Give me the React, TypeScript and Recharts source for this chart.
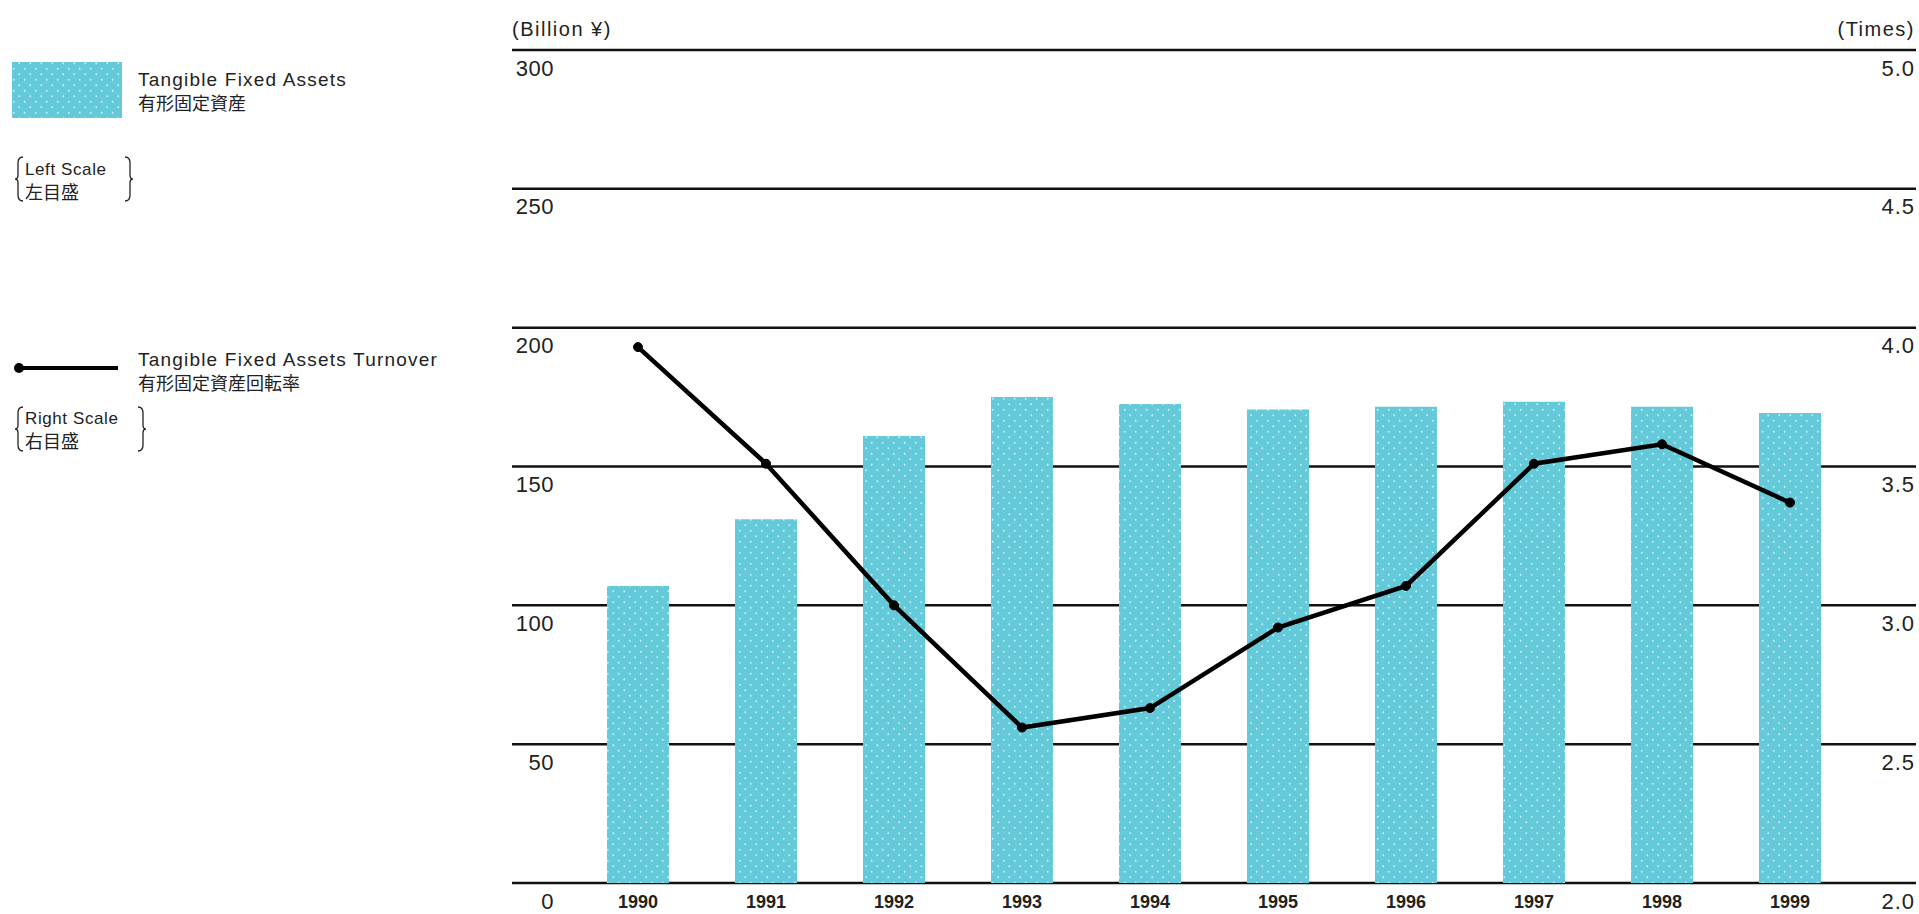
import { ComposedChart, Bar, Line, XAxis, YAxis, CartesianGrid } from "recharts";

// fiscal years on the category axis
const years = ["1990", "1991", "1992", "1993", "1994", "1995", "1996", "1997", "1998", "1999"];
// Tangible Fixed Assets, billion yen (left scale)
const fixedAssets = [107, 131, 161, 175, 172.5, 170.5, 171.5, 173.3, 171.5, 169.3];
// Tangible Fixed Assets Turnover, times (right scale)
const turnover = [3.93, 3.51, 3.0, 2.56, 2.63, 2.92, 3.07, 3.51, 3.58, 3.37];
const leftTicks = [0, 50, 100, 150, 200, 250, 300];
const rightTicks = [2.0, 2.5, 3.0, 3.5, 4.0, 4.5, 5.0];

const data = years.map((year, i) => ({
  year,
  assets: fixedAssets[i],
  turnover: turnover[i]
}));

const W = 1919;
const H = 914;
const PLOT_LEFT = 512;
const PLOT_RIGHT = 1916;
const PLOT_TOP = 50;
const PLOT_BOTTOM = 883;

const FONT = "'Liberation Sans', Arial, Helvetica, sans-serif";
const CJK = "'Noto Sans CJK JP', 'Noto Sans CJK SC', sans-serif";
const INK = "#222";
const CYAN = "#64CAD9";

const LeftTick = (props: any) => (
  <text
    x={PLOT_LEFT + 42}
    y={props.y + 18}
    textAnchor="end"
    dominantBaseline="central"
    fontFamily={FONT}
    fontSize={22}
    letterSpacing={0.5}
    fill={INK}
  >
    {props.payload.value}
  </text>
);

const RightTick = (props: any) => (
  <text
    x={PLOT_RIGHT - 1}
    y={props.y + 18}
    textAnchor="end"
    dominantBaseline="central"
    fontFamily={FONT}
    fontSize={22}
    letterSpacing={1}
    fill={INK}
  >
    {Number(props.payload.value).toFixed(1)}
  </text>
);

const YearTick = (props: any) => (
  <text
    x={props.x}
    y={902}
    textAnchor="middle"
    dominantBaseline="central"
    fontFamily={FONT}
    fontSize={18}
    fontWeight="bold"
    fill={INK}
  >
    {props.payload.value}
  </text>
);

function Brace({ x, top, bottom, flip }: { x: number; top: number; bottom: number; flip?: boolean }) {
  const s = flip ? -1 : 1;
  const mid = (top + bottom) / 2;
  const d = [
    `M ${x + 5 * s} ${top}`,
    `Q ${x} ${top} ${x} ${top + 6}`,
    `L ${x} ${mid - 4}`,
    `Q ${x} ${mid} ${x - 3 * s} ${mid}`,
    `Q ${x} ${mid} ${x} ${mid + 4}`,
    `L ${x} ${bottom - 6}`,
    `Q ${x} ${bottom} ${x + 5 * s} ${bottom}`
  ].join(" ");
  return <path d={d} fill="none" stroke={INK} strokeWidth={1.3} />;
}

function Overlay() {
  return (
    <svg
      width={W}
      height={H}
      style={{ position: "absolute", left: 0, top: 0, pointerEvents: "none" }}
    >
      <defs>
        <pattern id="dotsLegend" patternUnits="userSpaceOnUse" width={11} height={11}>
          <rect width={11} height={11} fill={CYAN} />
          <circle cx={2.75} cy={2.75} r={0.9} fill="#CDF1F6" />
          <circle cx={8.25} cy={8.25} r={0.9} fill="#CDF1F6" />
        </pattern>
      </defs>

      {/* axis unit captions */}
      <text x={PLOT_LEFT} y={36} fontFamily={FONT} fontSize={20} letterSpacing={1.5} fill={INK}>
        (Billion ¥)
      </text>
      <text x={1915} y={36} textAnchor="end" fontFamily={FONT} fontSize={20} letterSpacing={1.5} fill={INK}>
        (Times)
      </text>

      {/* bar legend */}
      <rect x={12} y={62} width={110} height={56} fill="url(#dotsLegend)" />
      <text x={138} y={86} fontFamily={FONT} fontSize={19} letterSpacing={1.2} fill={INK}>
        Tangible Fixed Assets
      </text>
      <text x={138} y={110} fontFamily={CJK} fontSize={18} fill={INK}>
        有形固定資産
      </text>
      <Brace x={18} top={157} bottom={201} />
      <Brace x={130} top={157} bottom={201} flip />
      <text x={25} y={175} fontFamily={FONT} fontSize={17} letterSpacing={0.6} fill={INK}>
        Left Scale
      </text>
      <text x={25} y={199} fontFamily={CJK} fontSize={18} fill={INK}>
        左目盛
      </text>

      {/* line legend */}
      <line x1={18} y1={368} x2={118} y2={368} stroke="#000" strokeWidth={4} />
      <circle cx={19} cy={368} r={5} fill="#000" />
      <text x={138} y={366} fontFamily={FONT} fontSize={19} letterSpacing={1.2} fill={INK}>
        Tangible Fixed Assets Turnover
      </text>
      <text x={138} y={390} fontFamily={CJK} fontSize={18} fill={INK}>
        有形固定資産回転率
      </text>
      <Brace x={18} top={407} bottom={451} />
      <Brace x={143} top={407} bottom={451} flip />
      <text x={25} y={424} fontFamily={FONT} fontSize={17} letterSpacing={0.6} fill={INK}>
        Right Scale
      </text>
      <text x={25} y={448} fontFamily={CJK} fontSize={18} fill={INK}>
        右目盛
      </text>
    </svg>
  );
}

export default function App() {
  return (
    <div style={{ position: "absolute", left: 0, top: 0, width: W, height: H, background: "#fff" }}>
      <ComposedChart
        width={W}
        height={H}
        data={data}
        margin={{
          top: PLOT_TOP,
          right: W - PLOT_RIGHT - 1,
          bottom: H - PLOT_BOTTOM - 1,
          left: PLOT_LEFT - 1
        }}
      >
        <defs>
          <pattern id="dotsBar" patternUnits="userSpaceOnUse" width={11} height={11}>
            <rect width={11} height={11} fill={CYAN} />
            <circle cx={2.75} cy={2.75} r={0.9} fill="#CDF1F6" />
            <circle cx={8.25} cy={8.25} r={0.9} fill="#CDF1F6" />
          </pattern>
        </defs>
        <CartesianGrid yAxisId="left" vertical={false} stroke="#111" strokeWidth={2.5} />
        <XAxis
          dataKey="year"
          height={1}
          padding={{ left: 62, right: 62 }}
          axisLine={false}
          tickLine={false}
          tick={<YearTick />}
          interval={0}
        />
        <YAxis
          yAxisId="left"
          width={1}
          domain={[0, 300]}
          ticks={leftTicks}
          axisLine={false}
          tickLine={false}
          tick={<LeftTick />}
          interval={0}
        />
        <YAxis
          yAxisId="right"
          orientation="right"
          width={1}
          domain={[2, 5]}
          ticks={rightTicks}
          axisLine={false}
          tickLine={false}
          tick={<RightTick />}
          interval={0}
        />
        <Bar
          yAxisId="left"
          dataKey="assets"
          barSize={62}
          fill="url(#dotsBar)"
          isAnimationActive={false}
        />
        <Line
          yAxisId="right"
          dataKey="turnover"
          stroke="#000"
          strokeWidth={4.5}
          dot={{ r: 4.5, fill: "#000", stroke: "#000", strokeWidth: 1 }}
          activeDot={false}
          isAnimationActive={false}
        />
      </ComposedChart>
      <Overlay />
    </div>
  );
}
